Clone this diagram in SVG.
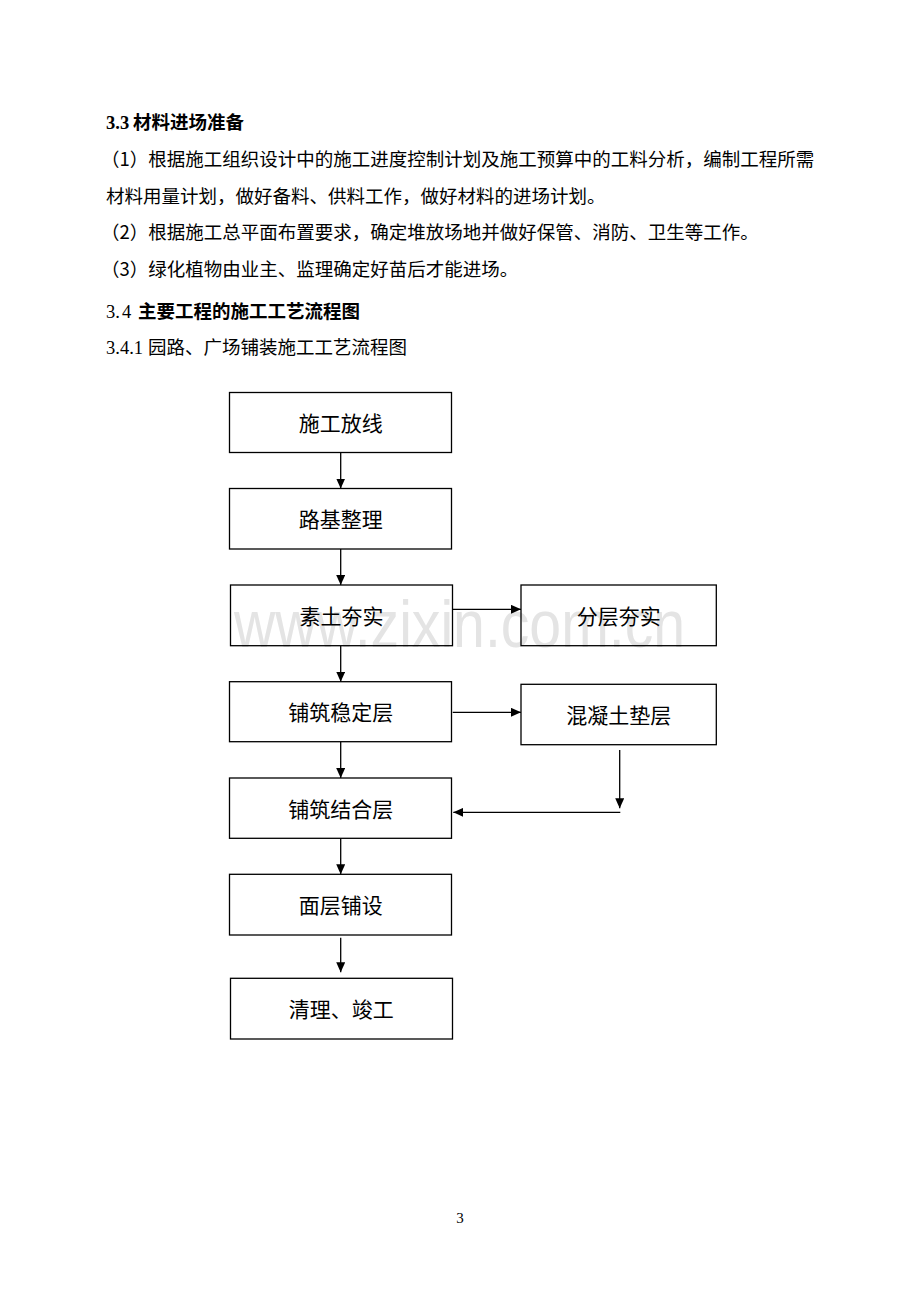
<svg xmlns="http://www.w3.org/2000/svg" width="920" height="1302" viewBox="0 0 920 1302">
<defs>
<style>
.body{font-family:"Liberation Serif","Noto Sans CJK SC",serif;font-size:18.5px;fill:#000}
.cjk{font-family:"Noto Sans CJK SC",sans-serif;font-size:18.5px;fill:#000}
.bold{font-weight:bold}
.box{fill:none;stroke:#000;stroke-width:1.3}
.lbl{font-family:"Noto Sans CJK SC",sans-serif;font-size:21px;fill:#000;text-anchor:middle}
.edge{fill:none;stroke:#000;stroke-width:1.3}
.wm{font-family:"Liberation Sans",Arial,sans-serif;font-size:67px;fill:#e4e4e4}
</style>
<marker id="ah" markerWidth="10" markerHeight="9" refX="10" refY="4.5" orient="auto" markerUnits="userSpaceOnUse">
<path d="M0,0 L10,4.5 L0,9 z" fill="#000"/>
</marker>
</defs>
<rect width="920" height="1302" fill="#fff"/>
<text class="wm" x="234" y="647" textLength="451" lengthAdjust="spacingAndGlyphs">www.zixin.com.cn</text>

<g id="heading-text">
<text class="body bold" x="106" y="129">3.3</text>
<text class="cjk bold" x="133" y="129">材料进场准备</text>
<text class="cjk" x="101" y="166">（1）根据施工组织设计中的施工进度控制计划及施工预算中的工料分析，编制工程所需</text>
<text class="cjk" x="106" y="202.5">材料用量计划，做好备料、供料工作，做好材料的进场计划。</text>
<text class="cjk" x="101" y="239">（2）根据施工总平面布置要求，确定堆放场地并做好保管、消防、卫生等工作。</text>
<text class="cjk" x="101" y="275.5">（3）绿化植物由业主、监理确定好苗后才能进场。</text>
<text class="body" x="106" y="318">3.<tspan x="122">4</tspan></text>
<text class="cjk bold" x="138" y="318">主要工程的施工工艺流程图</text>
<text class="body" x="106" y="354">3.4.1</text>
<text class="cjk" x="148" y="354">园路、广场铺装施工工艺流程图</text>
</g>

<g id="connectors">
<line class="edge" x1="340.7" y1="452.5" x2="340.7" y2="488.5" marker-end="url(#ah)"/>
<line class="edge" x1="340.7" y1="549" x2="340.7" y2="585" marker-end="url(#ah)"/>
<line class="edge" x1="340.7" y1="646" x2="340.7" y2="681.7" marker-end="url(#ah)"/>
<line class="edge" x1="340.7" y1="742" x2="340.7" y2="778" marker-end="url(#ah)"/>
<line class="edge" x1="340.7" y1="838.3" x2="340.7" y2="874.3" marker-end="url(#ah)"/>
<line class="edge" x1="340.7" y1="937.7" x2="340.7" y2="972.3" marker-end="url(#ah)"/>
<line class="edge" x1="452.5" y1="609.3" x2="521" y2="609.3" marker-end="url(#ah)"/>
<line class="edge" x1="452.7" y1="712.3" x2="521" y2="712.3" marker-end="url(#ah)"/>
<line class="edge" x1="619.7" y1="750" x2="619.7" y2="808.3" marker-end="url(#ah)"/>
<line class="edge" x1="620.3" y1="812.3" x2="453.3" y2="812.3" marker-end="url(#ah)"/>
</g>

<g id="n1"><rect class="box" x="229.5" y="392.5" width="222" height="60"/><text class="lbl" x="340.7" y="431">施工放线</text></g>
<g id="n2"><rect class="box" x="229.5" y="488.5" width="222" height="60.5"/><text class="lbl" x="340.7" y="527.2">路基整理</text></g>
<g id="n3"><rect class="box" x="230.5" y="585" width="222" height="60.7"/><text class="lbl" x="341.5" y="623.8">素土夯实</text></g>
<g id="n3r"><rect class="box" x="521" y="585" width="195.3" height="60.7"/><text class="lbl" x="618.7" y="623.8">分层夯实</text></g>
<g id="n4"><rect class="box" x="229.5" y="681.7" width="222" height="60"/><text class="lbl" x="340.7" y="720.2">铺筑稳定层</text></g>
<g id="n4r"><rect class="box" x="521" y="684.3" width="195.3" height="60.4"/><text class="lbl" x="618.7" y="723">混凝土垫层</text></g>
<g id="n5"><rect class="box" x="229.5" y="778" width="222" height="60.3"/><text class="lbl" x="340.7" y="816.5">铺筑结合层</text></g>
<g id="n6"><rect class="box" x="229.5" y="874.3" width="222" height="60.7"/><text class="lbl" x="340.7" y="913.2">面层铺设</text></g>
<g id="n7"><rect class="box" x="230.5" y="978.3" width="222" height="60.7"/><text class="lbl" x="341.3" y="1017.2">清理、竣工</text></g>

<text x="460" y="1222.5" text-anchor="middle" style="font-family:'Liberation Serif',serif;font-size:15px;fill:#000">3</text>
</svg>
